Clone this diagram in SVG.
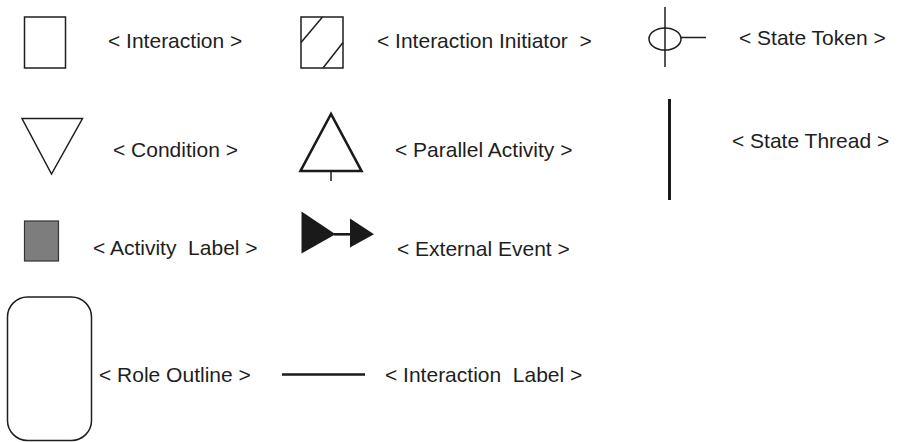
<svg xmlns="http://www.w3.org/2000/svg" width="897" height="442" viewBox="0 0 897 442">
  <style>
    .lbl { font-family: "Liberation Sans", Arial, Helvetica, sans-serif; font-size: 21px; fill: #1e1e1e; }
    .thin { fill: #fff; stroke: #1e1e1e; stroke-width: 1.5; }
    .ln { fill: none; stroke: #1e1e1e; stroke-width: 1.5; }
    .solid { fill: #1a1a1a; stroke: none; }
  </style>
  <rect width="897" height="442" fill="#fff"/>

  <g id="interaction">
    <rect class="thin" x="24.5" y="17" width="41" height="51"/>
    <text class="lbl" x="108" y="48">&lt; Interaction &gt;</text>
  </g>

  <g id="interaction-initiator">
    <rect class="thin" x="301" y="17" width="42" height="51"/>
    <line class="ln" x1="301" y1="42.5" x2="322.5" y2="17"/>
    <line class="ln" x1="323" y1="68" x2="343" y2="42.5"/>
    <text class="lbl" x="377" y="48" xml:space="preserve">&lt; Interaction Initiator  &gt;</text>
  </g>

  <g id="state-token">
    <line class="ln" x1="665" y1="7" x2="665" y2="67"/>
    <ellipse class="ln" cx="665" cy="39" rx="16" ry="11"/>
    <line class="ln" x1="681" y1="37.5" x2="706" y2="37.5"/>
    <text class="lbl" x="739" y="45">&lt; State Token &gt;</text>
  </g>

  <g id="condition">
    <polygon class="thin" points="22,118.5 82.5,118.5 51.5,174"/>
    <text class="lbl" x="113" y="157">&lt; Condition &gt;</text>
  </g>

  <g id="parallel-activity">
    <polygon fill="#fff" stroke="#1a1a1a" stroke-width="2.6" points="331,114 300.5,171 361.5,171"/>
    <line class="ln" x1="331" y1="171" x2="331" y2="181"/>
    <text class="lbl" x="395" y="157">&lt; Parallel Activity &gt;</text>
  </g>

  <g id="state-thread">
    <line fill="none" stroke="#1a1a1a" stroke-width="3" x1="669.5" y1="99" x2="669.5" y2="200"/>
    <text class="lbl" x="732" y="148">&lt; State Thread &gt;</text>
  </g>

  <g id="activity-label">
    <rect fill="#7d7d7d" stroke="#333" stroke-width="1.2" x="24.5" y="221" width="34" height="40"/>
    <text class="lbl" x="93" y="255" xml:space="preserve">&lt; Activity  Label &gt;</text>
  </g>

  <g id="external-event">
    <polygon class="solid" points="301.5,211.5 301.5,253.5 335.5,234.3"/>
    <line fill="none" stroke="#1a1a1a" stroke-width="2.6" x1="334" y1="234.3" x2="351" y2="234.3"/>
    <polygon class="solid" points="350,218.5 350,247.5 374,234.3"/>
    <text class="lbl" x="397" y="256">&lt; External Event &gt;</text>
  </g>

  <g id="role-outline">
    <rect class="thin" x="7.5" y="297" width="84" height="143.5" rx="20" ry="20"/>
    <text class="lbl" x="99" y="382">&lt; Role Outline &gt;</text>
  </g>

  <g id="connectors">
    <g id="interaction-label">
      <line fill="none" stroke="#1a1a1a" stroke-width="2.7" x1="282" y1="374.5" x2="365" y2="374.5"/>
      <text class="lbl" x="385" y="382" xml:space="preserve">&lt; Interaction  Label &gt;</text>
    </g>
  </g>
</svg>
